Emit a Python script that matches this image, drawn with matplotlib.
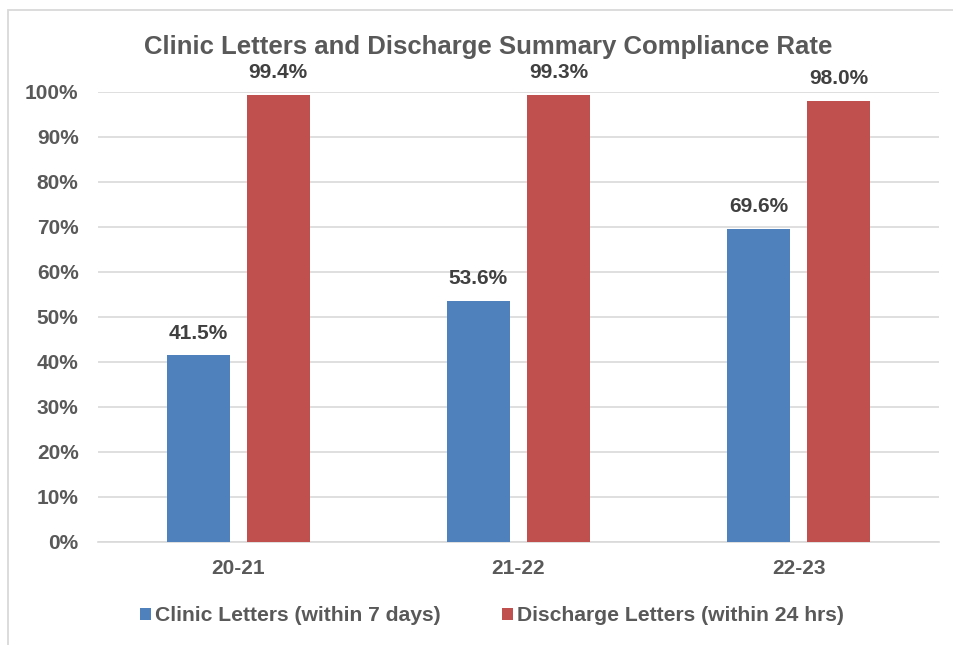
import numpy as np
import matplotlib
matplotlib.use("Agg")
import matplotlib.pyplot as plt
from matplotlib.patches import Patch, Rectangle
from matplotlib.ticker import PercentFormatter

# data
years = ["20-21", "21-22", "22-23"]
clinic = [41.5, 53.6, 69.6]
discharge = [99.4, 99.3, 98.0]
series_names = ["Clinic Letters (within 7 days)", "Discharge Letters (within 24 hrs)"]
series_colors = ["#4f81bd", "#c0504d"]

plt.rcParams['font.family'] = ['Liberation Sans', 'DejaVu Sans']
plt.rcParams['font.weight'] = 'bold'

text_grey = "#595959"
label_grey = "#404040"
grid_grey = "#d9d9d9"

fig = plt.figure(figsize=(9.54, 6.45), dpi=100)
ax = fig.add_axes([0.1027, 0.1597, 0.8816, 0.6977])

x = np.arange(len(years))
width = 0.225
offset = 0.143

for vals, off, color in zip([clinic, discharge], [-offset, offset], series_colors):
    bars = ax.bar(x + off, np.array(vals) / 100, width, color=color, zorder=3)
    for b, v in zip(bars, vals):
        ax.annotate(f"{v:.1f}%", (b.get_x() + b.get_width() / 2, b.get_height()),
                    xytext=(0, 12), textcoords="offset points", ha="center",
                    va="baseline", fontsize=15, fontweight="bold", color=label_grey)

ax.set_xlim(-0.5, len(years) - 0.5)
ax.set_ylim(0, 1)
ax.set_yticks(np.arange(0, 1.01, 0.1))
ax.yaxis.set_major_formatter(PercentFormatter(1.0, decimals=0))
ax.set_xticks(x)
ax.set_xticklabels(years)
ax.tick_params(axis="both", length=0, labelsize=15, labelcolor=text_grey)
ax.tick_params(axis="y", pad=14)
ax.tick_params(axis="x", pad=12)
for lab in ax.get_xticklabels() + ax.get_yticklabels():
    lab.set_fontweight("bold")

ax.grid(axis="y", color=grid_grey, linewidth=1.2, zorder=0)
for side in ["left", "right", "top"]:
    ax.spines[side].set_visible(False)
ax.spines["bottom"].set_color(grid_grey)
ax.spines["bottom"].set_linewidth(1.2)

fig.text(0.5115, 0.9163, "Clinic Letters and Discharge Summary Compliance Rate",
         ha="center", va="baseline", fontsize=18.5, fontweight="bold", color=text_grey)

handles = [Patch(facecolor=c, edgecolor="none") for c in series_colors]
leg = fig.legend(handles, series_names, loc="center", bbox_to_anchor=(0.5157, 0.045),
                 ncol=2, frameon=False, handlelength=0.53,
                 handleheight=0.53, handletextpad=0.2, columnspacing=2.9,
                 prop={"weight": "bold", "size": 15.2})
for t in leg.get_texts():
    t.set_color(text_grey)

# chart area border
fig.patches.append(Rectangle((8 / 954, -0.1), 1.1, 1.1 - 10 / 645,
                             transform=fig.transFigure, fill=False,
                             edgecolor=grid_grey, linewidth=1.3))

fig.savefig("out.png", dpi=100)
